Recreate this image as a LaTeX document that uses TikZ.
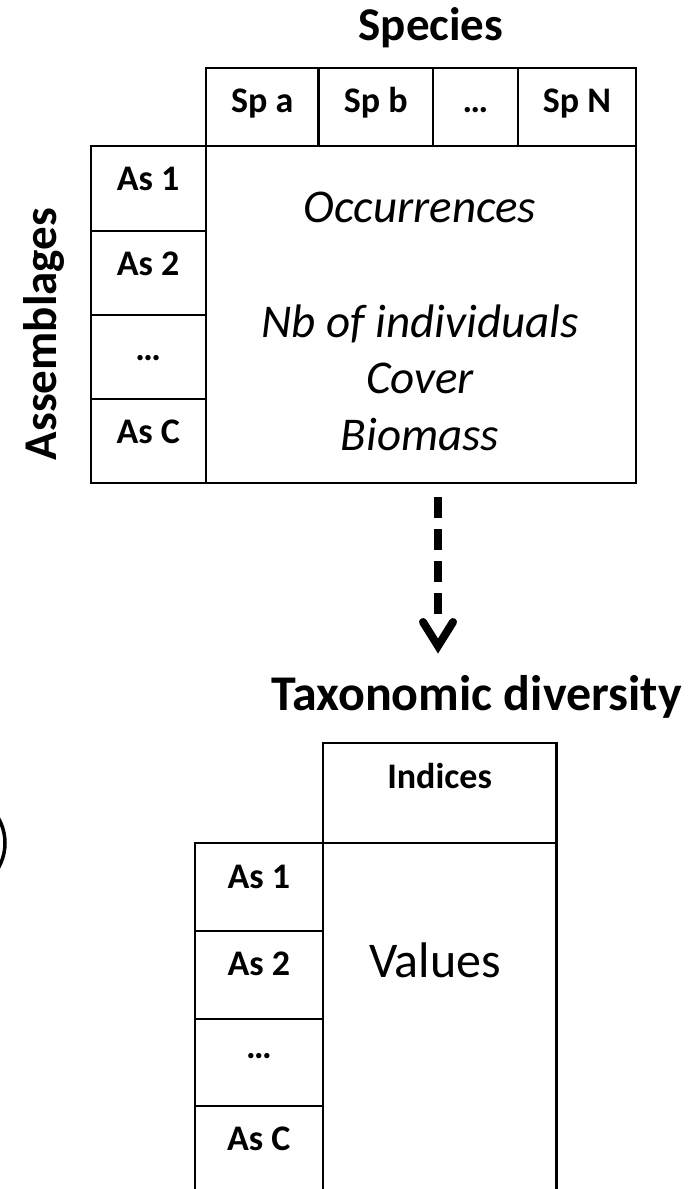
\documentclass[tikz,border=0pt]{standalone}
\usepackage{fontspec}
\setmainfont{Carlito}
\usetikzlibrary{arrows.meta}
\begin{document}
\begin{tikzpicture}[x=1pt,y=-1pt,
  cell/.style={draw=black,line width=2.4pt,inner sep=0pt,outer sep=0pt,
    minimum width=#1},
  lab/.style={font=\fontsize{36}{43}\selectfont\bfseries,inner sep=0pt,anchor=base},
  entry/.style={font=\fontsize{47}{57}\selectfont\itshape,inner sep=0pt,anchor=base},
  heading/.style={font=\fontsize{47}{57}\selectfont\bfseries,inner sep=0pt,anchor=base},
  flow/.style={line width=8pt,dash pattern=on 21pt off 11pt}]
\useasboundingbox (0,0) rectangle (689,1189);

% ---------- species x assemblages matrix ----------
\node[heading] (species) at (431,40) {Species};
\node[cell=112.9pt,minimum height=78pt] (spa) at (262.15,107) {};
\node[cell=114.3pt,minimum height=78pt] (spb) at (375.75,107) {};
\node[cell=85pt,minimum height=78pt]    (spd) at (475.4,107) {};
\node[cell=118.1pt,minimum height=78pt] (spn) at (576.95,107) {};
\node[lab] (tspa) at (spa.center |- 0,112) {Sp a};
\node[lab] (tspb) at (spb.center |- 0,112) {Sp b};
\node[lab] (tspd) at (spd.center |- 0,112) {…};
\node[lab] (tspn) at (spn.center |- 0,112) {Sp N};

\node[cell=115pt,minimum height=85pt] (as1) at (148.2,188.5) {};
\node[cell=115pt,minimum height=84pt] (as2) at (148.2,273) {};
\node[cell=115pt,minimum height=84pt] (asd) at (148.2,357) {};
\node[cell=115pt,minimum height=84pt] (asc) at (148.2,441) {};
\node[lab] (tas1) at (as1.center |- 0,190) {As 1};
\node[lab] (tas2) at (as2.center |- 0,275) {As 2};
\node[lab] (tasd) at (asd.center |- 0,360) {…};
\node[lab] (tasc) at (asc.center |- 0,443) {As C};

\node[cell=430.3pt,minimum height=337pt] (body) at (420.85,314.5) {};
\node[entry] (occ) at (420,222) {Occurrences};
\node[entry] (nb)  at (420,337) {Nb of individuals};
\node[entry] (cov) at (420,393) {Cover};
\node[entry] (bio) at (420,450) {Biomass};

\node[heading,rotate=90,anchor=center] (assemb) at (44,334) {Assemblages};

% ---------- dashed transition arrow ----------
\coordinate (from) at (438,497);
\coordinate (tip) at (438,646);
\draw[flow] (from) -- (438,616);
\draw[line width=8pt,line cap=round,line join=miter] (tip) ++(-15,-24) -- (tip) -- ++(15,-24);

% ---------- diversity table ----------
\node[heading,font=\fontsize{50}{60}\selectfont\bfseries] (taxo) at (476.5,710) {Taxonomic diversity};
\node[cell=233.8pt,minimum height=100pt] (ind) at (439.6,793) {};
\node[lab] (tind) at (ind.center |- 0,788) {Indices};

\node[cell=127.7pt,minimum height=88pt] (bs1) at (258.85,887) {};
\node[cell=127.7pt,minimum height=88pt] (bs2) at (258.85,975) {};
\node[cell=127.7pt,minimum height=87pt] (bsd) at (258.85,1062.5) {};
\node[cell=127.7pt,minimum height=90pt] (bsc) at (258.85,1151) {};
\node[lab] (tbs1) at (bs1.center |- 0,888) {As 1};
\node[lab] (tbs2) at (bs2.center |- 0,975) {As 2};
\node[lab] (tbsd) at (bsd.center |- 0,1058) {…};
\node[lab] (tbsc) at (bsc.center |- 0,1150) {As C};

\node[cell=233.8pt,minimum height=353pt] (vals) at (439.6,1019.5) {};
\node[font=\fontsize{50}{60}\selectfont,inner sep=0pt,anchor=base] (tvals) at (435,977) {Values};

% ---------- ring at the left margin ----------
\node[draw=black,circle,line width=3.5pt,minimum size=100pt,inner sep=0pt] (ring) at (-45,843) {};
\end{tikzpicture}
\end{document}
